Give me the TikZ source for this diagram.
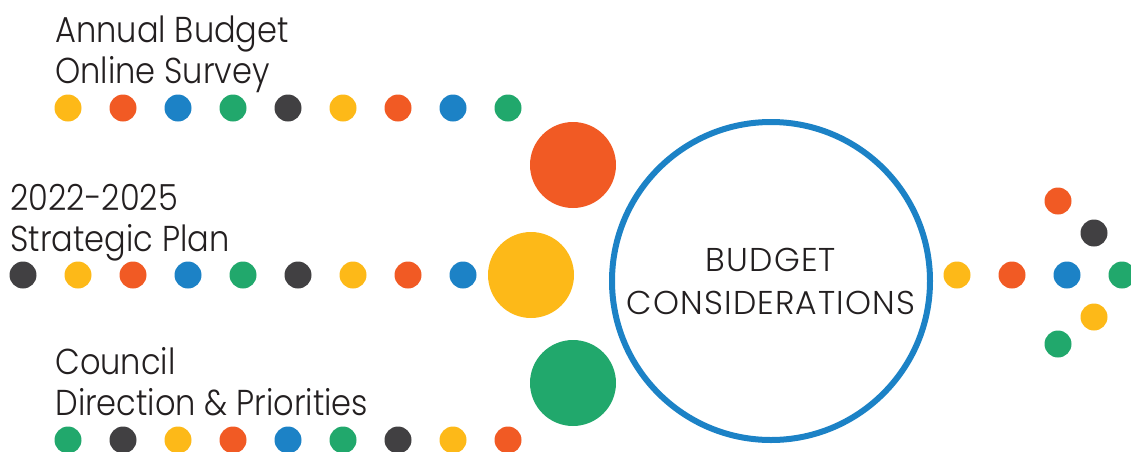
\documentclass[tikz,border=0pt]{standalone}
\usepackage{fontspec}
\IfFontExistsTF{Poppins Light}
    {\setmainfont{Poppins Light}\newfontfamily\srcfont{Poppins Light}[FakeStretch=0.89]\newfontfamily\midfont{Poppins Light}[LetterSpace=3.5]}
    {\setmainfont{Poppins}\newfontfamily\srcfont{Poppins}[FakeStretch=0.89]\newfontfamily\midfont{Poppins}[LetterSpace=3.5]}
\usepackage{xcolor}
\usepackage{tikz}
\usetikzlibrary{positioning,calc}

\definecolor{dyellow}{HTML}{FDB918}
\definecolor{dorange}{HTML}{F15A24}
\definecolor{dblue}{HTML}{1C82C6}
\definecolor{dgreen}{HTML}{21A86C}
\definecolor{ddark}{HTML}{414042}
\definecolor{dtext}{HTML}{231F20}

\begin{document}
\begin{tikzpicture}[x=0.5pt, y=-0.5pt,
    dot/.style={circle, fill=#1, minimum size=13.5pt, inner sep=0pt},
    bigdot/.style={circle, fill=#1, minimum size=43pt, inner sep=0pt},
    srctext/.style={anchor=north west, inner sep=0pt, align=left, text=dtext, font=\srcfont\fontsize{18}{20.5}\selectfont}]
    \useasboundingbox (0,0) rectangle (1131,451);

    % Sources
    \node[srctext] (survey) at (55,15) {Annual Budget\\Online Survey};
    \node[srctext] (plan) at (10,184) {2022-2025\\Strategic Plan};
    \node[srctext] (council) at (55,347) {Council\\Direction \& Priorities};

    % Dotted trails
    \foreach \c [count=\i from 0] in {dyellow,dorange,dblue,dgreen,ddark,dyellow,dorange,dblue,dgreen}
        \node[dot=\c] (top\i) at ({68+55*\i},108) {};
    \foreach \c [count=\i from 0] in {ddark,dyellow,dorange,dblue,dgreen,ddark,dyellow,dorange,dblue}
        \node[dot=\c] (mid\i) at ({23+55*\i},275) {};
    \foreach \c [count=\i from 0] in {dgreen,ddark,dyellow,dorange,dblue,dgreen,ddark,dyellow,dorange}
        \node[dot=\c] (bot\i) at ({68+55*\i},440) {};

    % Big dots
    \node[bigdot=dorange] (topbig) at (573,165) {};
    \node[bigdot=dyellow] (midbig) at (531,275) {};
    \node[bigdot=dgreen] (botbig) at (573,383) {};

    % Budget considerations
    \node[circle, draw=dblue, line width=3pt, minimum size=159pt, inner sep=0pt,
        align=center, text=dtext, font=\midfont\fontsize{16.5}{21.5}\selectfont] (budget) at (771,281)
        {BUDGET\\CONSIDERATIONS};

    % Outgoing dots
    \node[dot=dyellow] (out1) at (957,275) {};
    \node[dot=dorange] (out2) at (1012,275) {};
    \node[dot=dblue] (out3) at (1067,275) {};
    \node[dot=dgreen] (out4) at (1122,275) {};
    \node[dot=dorange] (up1) at (1058,201) {};
    \node[dot=ddark] (up2) at (1094,233) {};
    \node[dot=dyellow] (dn2) at (1094,317) {};
    \node[dot=dgreen] (dn1) at (1058,344) {};

\end{tikzpicture}
\end{document}
